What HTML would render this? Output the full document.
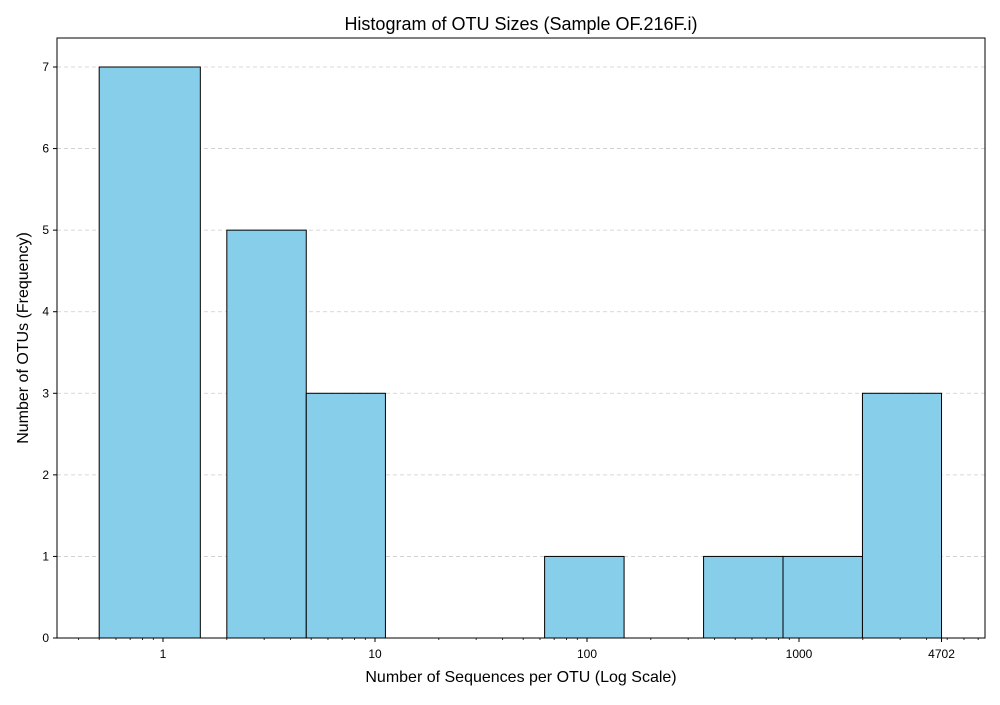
<!DOCTYPE html>
<html><head><meta charset="utf-8"><style>
body{margin:0;background:#fff;font-family:"Liberation Sans","DejaVu Sans",sans-serif}
</style></head><body>
<svg id="chart" width="1000" height="700" xmlns="http://www.w3.org/2000/svg">
<rect width="1000" height="700" fill="#fff"/>
<text x="521" y="30" text-anchor="middle" font-size="18">Histogram of OTU Sizes (Sample OF.216F.i)</text>
<g id="grid"></g><g id="bars"></g><g id="axes"></g>
<text x="521" y="682" text-anchor="middle" font-size="16">Number of Sequences per OTU (Log Scale)</text>
<text transform="translate(28,338) rotate(-90)" text-anchor="middle" font-size="16">Number of OTUs (Frequency)</text>
</svg>
<script>
const binLeft = [0.5, 2, 4.74, 11.2, 26.6, 63.1, 149.6, 354.7, 840.6, 1992];
const binRight = [1.5, 4.74, 11.2, 26.6, 63.1, 149.6, 354.7, 840.6, 1992, 4702];
const counts = [7, 5, 3, 0, 0, 1, 0, 1, 1, 3];
const xTickValues = [1, 10, 100, 1000, 4702];
const xTickLabels = ["1", "10", "100", "1000", "4702"];
const yTicks = [0, 1, 2, 3, 4, 5, 6, 7];

const L=57,R=985,T=38,B=638;
const xMin=Math.log10(0.316), pxDec=212;
const X=v=>163+Math.log10(v)*pxDec;
const Y=v=>B-v*(571/7);
const NS="http://www.w3.org/2000/svg";
function mk(tag,attrs,parent){const e=document.createElementNS(NS,tag);for(const k in attrs)e.setAttribute(k,attrs[k]);document.getElementById(parent).appendChild(e);return e;}

yTicks.forEach(t=>{
  if(t>0){const g=mk('line',{x1:L,x2:R,y1:Y(t),y2:Y(t),stroke:'#ccc','stroke-dasharray':'4,3','stroke-width':0.8},'grid');
  
  }
  const tk=mk('line',{x1:L-4,x2:L,y1:Y(t),y2:Y(t),stroke:'#000'},'axes');
  
  
  const tx=mk('text',{x:L-8,y:Y(t)+4,'text-anchor':'end','font-size':12},'axes');
  tx.textContent=t;
  
  
});
counts.forEach((c,i)=>{
  if(c<=0)return;
  const r=mk('rect',{x:X(binLeft[i]),y:Y(c),width:X(binRight[i])-X(binLeft[i]),height:Y(0)-Y(c),fill:'#87ceeb',stroke:'#000','stroke-width':1},'bars');
  
  
});
// minor ticks
for(let d=-1;d<=3;d++){for(let m=2;m<=9;m++){const v=m*Math.pow(10,d);const x=X(v);if(x<L||x>R)continue;
  const t=mk('line',{x1:x,x2:x,y1:B,y2:B+2,stroke:'#000','stroke-width':0.8},'axes');
  
  }}
xTickValues.forEach((v,i)=>{
  const tk=mk('line',{x1:X(v),x2:X(v),y1:B,y2:B+4,stroke:'#000'},'axes');
  
  
  const tx=mk('text',{x:X(v),y:B+20,'text-anchor':'middle','font-size':12},'axes');
  tx.textContent=xTickLabels[i];
  
  
});
const f=mk('rect',{x:L,y:T,width:R-L,height:B-T,fill:'none',stroke:'#000','stroke-width':1},'axes');


</script>
</body></html>
